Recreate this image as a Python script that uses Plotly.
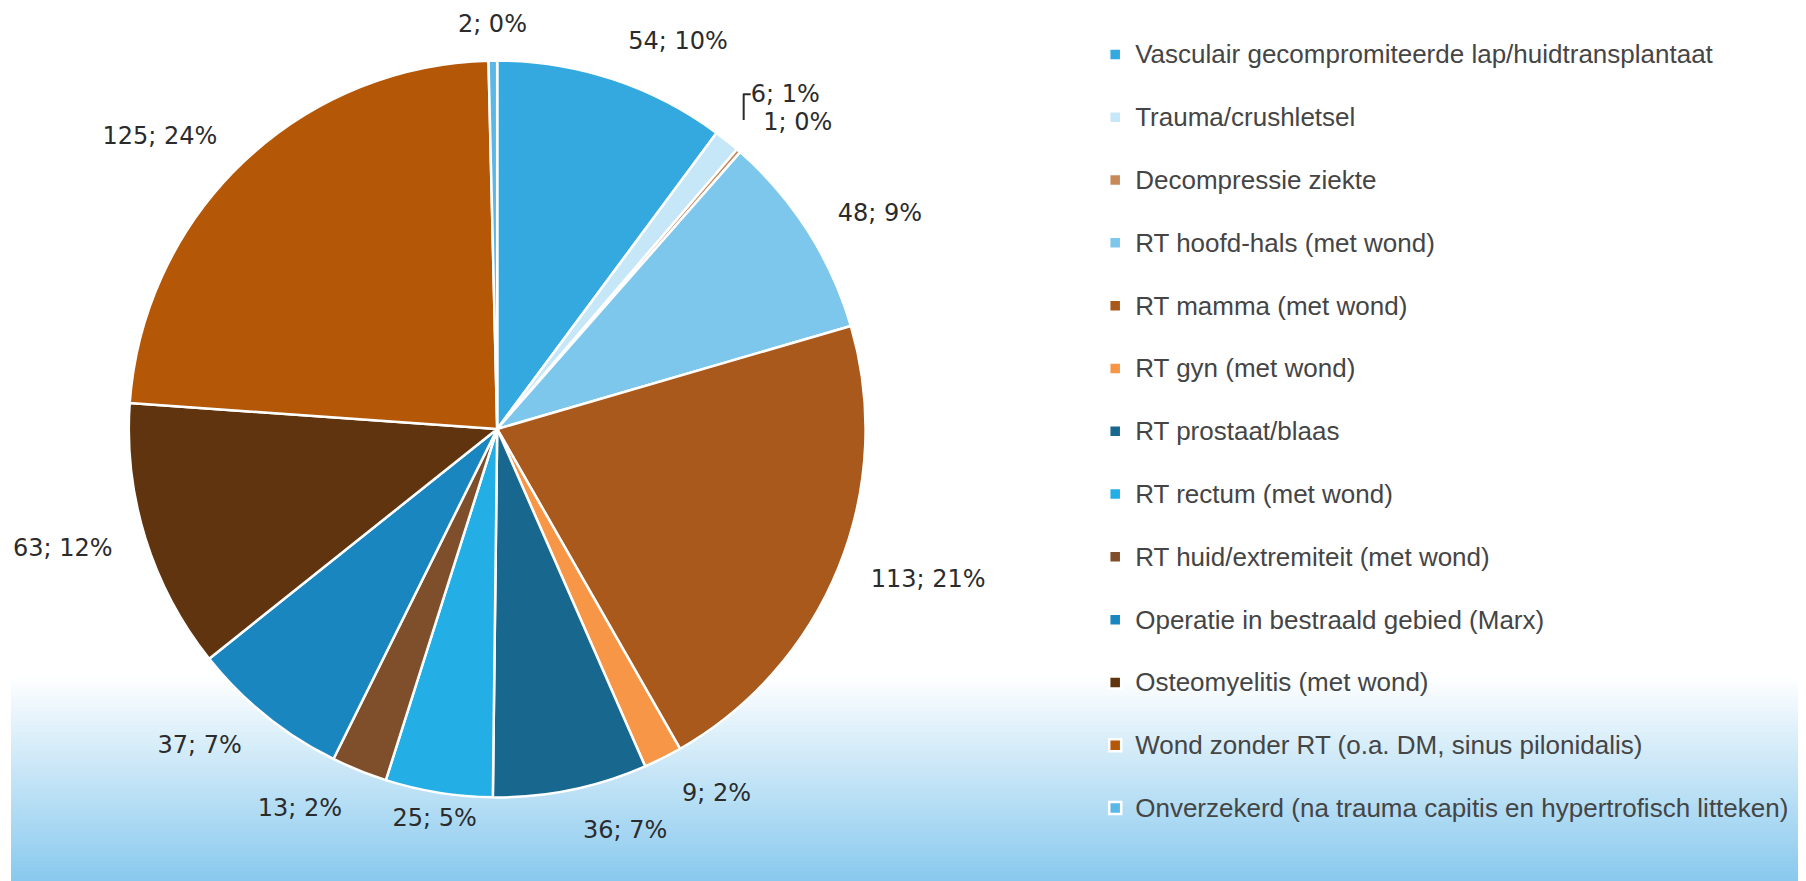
import plotly.graph_objects as go

categories = [
    "Vasculair gecompromiteerde lap/huidtransplantaat",
    "Trauma/crushletsel",
    "Decompressie ziekte",
    "RT hoofd-hals (met wond)",
    "RT mamma (met wond)",
    "RT gyn (met wond)",
    "RT prostaat/blaas",
    "RT rectum (met wond)",
    "RT huid/extremiteit (met wond)",
    "Operatie in bestraald gebied (Marx)",
    "Osteomyelitis (met wond)",
    "Wond zonder RT (o.a. DM, sinus pilonidalis)",
    "Onverzekerd (na trauma capitis en hypertrofisch litteken)",
]
counts = [54, 6, 1, 48, 113, 9, 36, 25, 13, 37, 63, 125, 2]
percent_labels = ["10%", "1%", "0%", "9%", "21%", "2%", "7%", "5%", "2%", "7%", "12%", "24%", "0%"]
colors = ["#33A9E0", "#C6E7F8", "#C8885A", "#7DC6EC", "#A9591B", "#F79646",
          "#17678E", "#23AEE5", "#7E4F2A", "#1A86C0", "#60340F", "#B45706", "#5BB8E6"]
# labels that sit centred just below / above their slice, with the outer radius of their label ring
centred_labels = {
    "RT rectum (met wond)": 420,
    "Onverzekerd (na trauma capitis en hypertrofisch litteken)": 410,
}

W, H = 1806, 881
OFF = 8  # page body margin
cx, cy = 495 - OFF, 429 - OFF
R = 369
RL = 396   # radius of the invisible ring carrying outside labels

LABEL_FONT = dict(family="DejaVu Sans, Verdana, sans-serif", size=24, color="#2b2b2b")


def dom(r):
    yb = H - cy
    return dict(x=[(cx - r) / W, (cx + r) / W],
                y=[max(0.0, (yb - r) / H), min(1.0, (yb + r) / H)])


legend_labels = ['<span style="font-size:26px">%s</span><br> ' % c for c in categories]
common = dict(labels=legend_labels, values=counts, sort=False, direction="clockwise", rotation=0)

fig = go.Figure()
fig.add_trace(go.Pie(
    **common,
    marker=dict(colors=colors, line=dict(color="white", width=2.5)),
    textinfo="none",
    domain=dom(R),
    hoverinfo="value+percent",
))
# invisible ring carrying the outside data labels
fig.add_trace(go.Pie(
    **common,
    text=percent_labels,
    marker=dict(colors=["rgba(0,0,0,0)"] * len(counts), line=dict(width=0)),
    texttemplate="%{value}; %{text}",
    textposition=["none" if c in centred_labels else "outside" for c in categories],
    textfont=LABEL_FONT,
    outsidetextfont=LABEL_FONT,
    domain=dom(RL),
    showlegend=False,
    hoverinfo="skip",
))
# invisible rings carrying the labels centred over their slice
for name, rc in centred_labels.items():
    fig.add_trace(go.Pie(
        **common,
        text=percent_labels,
        hole=R / rc,
        marker=dict(colors=["rgba(0,0,0,0)"] * len(counts), line=dict(width=0)),
        texttemplate="%{value}; %{text}",
        textposition=["inside" if c == name else "none" for c in categories],
        insidetextorientation="horizontal",
        textfont=LABEL_FONT,
        insidetextfont=LABEL_FONT,
        domain=dom(rc),
        showlegend=False,
        hoverinfo="skip",
    ))

# background gradient (decoration)
shapes = []
top, bottom = 675 - OFF, H
n = 60
c0 = (255, 255, 255)
c1 = (0x84, 0xC7, 0xED)
for i in range(n):
    y0 = top + (bottom - top) * i / n
    y1 = top + (bottom - top) * (i + 1) / n + 1
    t = (i + 0.5) / n
    col = tuple(round(c0[k] + (c1[k] - c0[k]) * t) for k in range(3))
    shapes.append(dict(type="rect", xref="paper", yref="paper",
                       x0=0, x1=(1798 - OFF) / W, y0=max(0, 1 - y1 / H), y1=1 - y0 / H,
                       line=dict(width=0), fillcolor="rgb(%d,%d,%d)" % col, layer="below"))

fig.update_layout(
    width=W, height=H,
    margin=dict(l=0, r=0, t=0, b=0),
    paper_bgcolor="white",
    plot_bgcolor="white",
    shapes=shapes,
    showlegend=True,
    uniformtext=dict(minsize=24, mode="show"),
    legend=dict(
        x=1086 / W, xanchor="left",
        y=1 - 25 / H, yanchor="top",
        font=dict(family="Liberation Sans, Arial, sans-serif", size=23, color="#454545"),
        valign="top",
        bgcolor="rgba(0,0,0,0)",
        traceorder="normal",
    ),
)

fig.write_html("out.html")
